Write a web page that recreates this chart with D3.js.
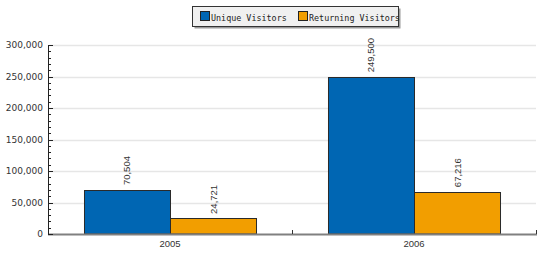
<!DOCTYPE html>
<html lang="en">
<head>
<meta charset="utf-8">
<script src="https://d3js.org/d3.v7.min.js"></script>
<style>
  body { margin: 0; padding: 0; background: #fff; }
  svg { display: block; }
  .ylab { font: 9px "DejaVu Sans", sans-serif; fill: #333; }
  .xlab { font: 9.5px "Liberation Sans", Arial, sans-serif; fill: #333; }
  .val { font: 9.5px "Liberation Sans", Arial, sans-serif; fill: #333; }
  .leg { font: 9.5px "DejaVu Sans Mono", monospace; fill: #222; }
</style>
</head>
<body>
<svg id="chart" width="550" height="257"></svg>
<script>
// data
const years = ['2005', '2006'];
const seriesNames = ['Unique Visitors', 'Returning Visitors'];
const uniqueVisitors = [70504, 249500];
const returningVisitors = [24721, 67216];
const yTicks = [0, 50000, 100000, 150000, 200000, 250000, 300000];
const colors = ['#0066b3', '#f29e00'];

const plotL = 48, plotR = 536, plotT = 45, plotB = 234;

const svg = d3.select('#chart');

const y = d3.scaleLinear().domain([0, 300000]).range([plotB, plotT]);
const x0 = d3.scaleBand().domain(years).range([plotL, plotR])
             .paddingInner(0.295).paddingOuter(0.1475);
const x1 = d3.scaleBand().domain(seriesNames).range([0, x0.bandwidth()]);
const fmt = d3.format(',');

// grid lines
svg.append('g').selectAll('line')
   .data(yTicks.filter(d => d > 0))
   .enter().append('line')
   .attr('x1', plotL + 1).attr('x2', plotR)
   .attr('y1', d => Math.round(y(d)) + 0.5).attr('y2', d => Math.round(y(d)) + 0.5)
   .attr('stroke', '#e6e6e6').attr('stroke-width', 1.5);

// bars
const rows = years.map((yr, i) => ({year: yr, vals: [uniqueVisitors[i], returningVisitors[i]]}));
const groups = svg.append('g').selectAll('g')
   .data(rows).enter().append('g')
   .attr('transform', d => 'translate(' + x0(d.year) + ',0)');

groups.selectAll('rect')
   .data(d => d.vals.map((v, j) => ({name: seriesNames[j], v: v, j: j})))
   .enter().append('rect')
   .attr('x', d => x1(d.name) + 0.5)
   .attr('y', d => Math.round(y(d.v)) + 0.5)
   .attr('width', x1.bandwidth())
   .attr('height', d => plotB - Math.round(y(d.v)) - 0.5)
   .attr('fill', d => colors[d.j])
   .attr('stroke', '#2a2a2a').attr('stroke-width', 1);

groups.selectAll('text')
   .data(d => d.vals.map((v, j) => ({name: seriesNames[j], v: v})))
   .enter().append('text')
   .attr('class', 'val')
   .attr('transform', d => 'translate(' + (x1(d.name) + x1.bandwidth() / 2 + 3.5) + ',' + (y(d.v) - 4.5) + ') rotate(-90)')
   .text(d => fmt(d.v));

// x axis
svg.append('line')
   .attr('x1', plotL).attr('x2', plotR + 1)
   .attr('y1', plotB + 0.5).attr('y2', plotB + 0.5)
   .attr('stroke', '#808080').attr('stroke-width', 2);
const bounds = years.slice(1).map(d => x0(d) - x0.step() * 0.1475).concat([plotR]);
svg.append('g').selectAll('line')
   .data(bounds)
   .enter().append('line')
   .attr('x1', d => Math.round(d) + 0.5).attr('x2', d => Math.round(d) + 0.5)
   .attr('y1', plotB - 4).attr('y2', plotB)
   .attr('stroke', '#333');
svg.append('g').selectAll('text')
   .data(years).enter().append('text')
   .attr('class', 'xlab')
   .attr('x', d => x0(d) + x0.bandwidth() / 2)
   .attr('y', plotB + 12.5)
   .attr('text-anchor', 'middle')
   .text(d => d);

// y axis
const yAxis = svg.append('g');
yAxis.append('line')
   .attr('x1', plotL + 0.5).attr('x2', plotL + 0.5)
   .attr('y1', plotT).attr('y2', plotB)
   .attr('stroke', '#222');
yAxis.selectAll('line.minor')
   .data(d3.range(0, 300001, 10000))
   .enter().append('line')
   .attr('class', 'minor')
   .attr('x1', plotL).attr('x2', d => d % 50000 === 0 ? plotL + 5 : plotL + 3)
   .attr('y1', d => Math.round(y(d)) + 0.5).attr('y2', d => Math.round(y(d)) + 0.5)
   .attr('stroke', '#222');
yAxis.selectAll('text')
   .data(yTicks).enter().append('text')
   .attr('class', 'ylab')
   .attr('x', plotL - 5)
   .attr('y', d => y(d) + 3)
   .attr('text-anchor', 'end')
   .text(d => fmt(d));

// legend
const lg = svg.append('g');
lg.append('rect').attr('x', 194.5).attr('y', 8.5).attr('width', 206).attr('height', 20)
  .attr('fill', '#9a9a9a');
lg.append('rect').attr('x', 192.5).attr('y', 6.5).attr('width', 206).attr('height', 20)
  .attr('fill', '#f0f0f0').attr('stroke', '#333');
const legX = [200, 298];
seriesNames.forEach((name, i) => {
  lg.append('rect').attr('x', legX[i] + 0.5).attr('y', 11.5).attr('width', 9).attr('height', 9)
    .attr('fill', colors[i]).attr('stroke', '#222');
  lg.append('text').attr('class', 'leg')
    .attr('x', legX[i] + 11).attr('y', 20.5)
    .attr('textLength', name.length * 5.05)
    .attr('lengthAdjust', 'spacingAndGlyphs')
    .text(name);
});
</script>
</body>
</html>
